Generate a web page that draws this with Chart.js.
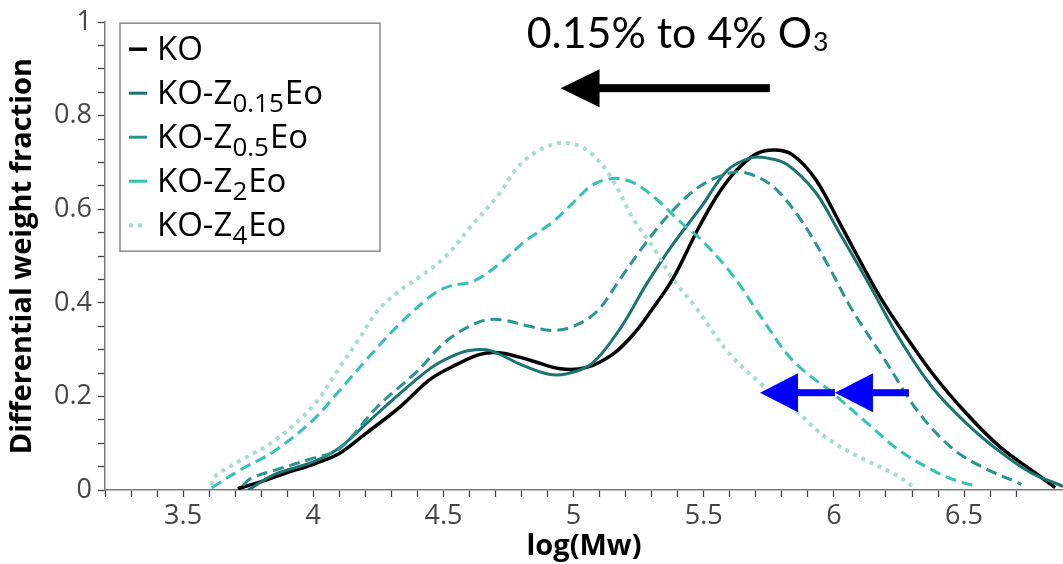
<!DOCTYPE html>
<html><head><meta charset="utf-8">
<script src="https://cdn.jsdelivr.net/npm/chart.js@4.4.1/dist/chart.umd.min.js"></script>
<style>html,body{margin:0;padding:0;background:#fff;overflow:hidden}canvas{display:block}</style>
</head><body>
<canvas id="c" width="1063" height="564"></canvas>
<script>
// ---- data ----
const koX = [3.71, 3.8, 3.9, 4.0, 4.1, 4.2, 4.33, 4.45, 4.55, 4.64, 4.72, 4.83, 4.95, 5.05, 5.15, 5.23, 5.3, 5.38, 5.48, 5.55, 5.62, 5.7, 5.77, 5.84, 5.93, 6.02, 6.1, 6.18, 6.25, 6.38, 6.51, 6.64, 6.76, 6.85];
const koY = [0.003, 0.018, 0.037, 0.055, 0.078, 0.12, 0.176, 0.237, 0.268, 0.29, 0.293, 0.278, 0.259, 0.262, 0.29, 0.333, 0.385, 0.45, 0.56, 0.628, 0.68, 0.718, 0.727, 0.717, 0.664, 0.573, 0.49, 0.41, 0.35, 0.248, 0.163, 0.091, 0.042, 0.005];

const z015X = [3.75, 3.85, 4.0, 4.1, 4.21, 4.33, 4.45, 4.53, 4.6, 4.68, 4.79, 4.9, 4.97, 5.07, 5.18, 5.28, 5.38, 5.49, 5.59, 5.68, 5.74, 5.82, 5.93, 6.02, 6.13, 6.25, 6.38, 6.51, 6.64, 6.76, 6.88];
const z015Y = [0.0, 0.033, 0.06, 0.09, 0.145, 0.205, 0.26, 0.285, 0.298, 0.298, 0.27, 0.248, 0.248, 0.27, 0.346, 0.44, 0.524, 0.605, 0.683, 0.71, 0.71, 0.696, 0.636, 0.551, 0.445, 0.325, 0.218, 0.142, 0.081, 0.036, 0.008];

const z05X = [3.73, 3.76, 3.85, 4.0, 4.1, 4.25, 4.4, 4.51, 4.64, 4.72, 4.83, 4.92, 5.0, 5.09, 5.18, 5.28, 5.38, 5.49, 5.61, 5.68, 5.77, 5.87, 5.97, 6.07, 6.19, 6.32, 6.45, 6.57, 6.7, 6.72];
const z05Y = [0.01, 0.025, 0.042, 0.068, 0.088, 0.18, 0.254, 0.318, 0.36, 0.364, 0.35, 0.341, 0.35, 0.382, 0.452, 0.53, 0.597, 0.651, 0.679, 0.675, 0.647, 0.58, 0.488, 0.385, 0.283, 0.17, 0.091, 0.049, 0.017, 0.012];

const z2X = [3.61, 3.72, 3.85, 4.0, 4.1, 4.21, 4.33, 4.46, 4.53, 4.61, 4.71, 4.81, 4.92, 5.0, 5.07, 5.15, 5.23, 5.32, 5.41, 5.49, 5.61, 5.72, 5.84, 6.0, 6.13, 6.25, 6.38, 6.47, 6.55];
const z2Y = [0.005, 0.043, 0.083, 0.15, 0.212, 0.282, 0.354, 0.418, 0.437, 0.445, 0.481, 0.53, 0.573, 0.615, 0.651, 0.666, 0.657, 0.621, 0.573, 0.535, 0.46, 0.37, 0.278, 0.205, 0.142, 0.085, 0.042, 0.02, 0.008];

const z4X = [3.61, 3.62, 3.72, 3.85, 4.0, 4.1, 4.17, 4.25, 4.33, 4.42, 4.51, 4.61, 4.71, 4.79, 4.87, 4.96, 5.05, 5.14, 5.23, 5.31, 5.38, 5.47, 5.59, 5.72, 5.84, 5.97, 6.1, 6.23, 6.31];
const z4Y = [0.01, 0.028, 0.063, 0.105, 0.18, 0.261, 0.318, 0.385, 0.425, 0.46, 0.5, 0.566, 0.63, 0.693, 0.727, 0.742, 0.727, 0.672, 0.579, 0.515, 0.452, 0.39, 0.297, 0.227, 0.176, 0.112, 0.07, 0.035, 0.005];

const seriesNames = ['KO', 'KO-Z0.15Eo', 'KO-Z0.5Eo', 'KO-Z2Eo', 'KO-Z4Eo'];
// legend label pieces: [text, isSubscript]
const legendParts = [
  [['KO', 0]],
  [['KO-Z', 0], ['0.15', 1], ['Eo', 0]],
  [['KO-Z', 0], ['0.5', 1], ['Eo', 0]],
  [['KO-Z', 0], ['2', 1], ['Eo', 0]],
  [['KO-Z', 0], ['4', 1], ['Eo', 0]]
];
const xTitle = 'log(Mw)';
const yTitle = 'Differential weight fraction';
const noteMain = '0.15% to 4% O';
const noteSub = '3';

// annotation anchors in data units
const blackArrow = {tail: 5.754, tip: 4.95, y: 0.859};
const blueArrows = [{tail: 6.004, tip: 5.716, y: 0.208}, {tail: 6.288, tip: 6.004, y: 0.208}];
const noteAt = {x: 4.82, y: 0.945};

// ---- styling ----
const styles = [
  {color: '#000000', width: 3.5, dash: []},
  {color: '#1d736f', width: 3, dash: []},
  {color: '#28968f', width: 3, dash: [11, 6]},
  {color: '#33c2b3', width: 3, dash: [11, 6]},
  {color: '#a9dbd3', width: 4, dash: [4, 5]}
];

const xsAll = [koX, z015X, z05X, z2X, z4X];
const ysAll = [koY, z015Y, z05Y, z2Y, z4Y];

const datasets = seriesNames.map((n, i) => ({
  label: n,
  data: xsAll[i].map((x, k) => ({x: x, y: ysAll[i][k]})),
  borderColor: styles[i].color,
  backgroundColor: styles[i].color,
  borderWidth: styles[i].width,
  borderDash: styles[i].dash,
  pointRadius: 0,
  fill: false,
  tension: 0.35,
  order: 5 - i
}));

const FONT = "'Open Sans', 'DejaVu Sans', sans-serif";

function drawArrow(ctx, xs, ys, a, color, shaft, headLen, headHalf) {
  const tail = xs.getPixelForValue(a.tail), tip = xs.getPixelForValue(a.tip), y = ys.getPixelForValue(a.y);
  const dir = tail > tip ? 1 : -1;
  const base = tip + dir * headLen;
  ctx.save();
  ctx.fillStyle = color;
  ctx.fillRect(Math.min(base, tail) - 1, y - shaft / 2, Math.abs(tail - base) + 1, shaft);
  ctx.beginPath();
  ctx.moveTo(tip, y);
  ctx.lineTo(base, y - headHalf);
  ctx.lineTo(base, y + headHalf);
  ctx.closePath();
  ctx.fill();
  ctx.restore();
}

const annot = {
  id: 'annot',
  afterDraw(chart) {
    const ctx = chart.ctx, xs = chart.scales.x, ys = chart.scales.y, ca = chart.chartArea;
    // arrows
    drawArrow(ctx, xs, ys, blackArrow, '#000000', 8, 39, 19);
    blueArrows.forEach(a => drawArrow(ctx, xs, ys, a, '#0000ff', 7, 38, 19.5));
    // note text
    ctx.save();
    ctx.fillStyle = '#000';
    ctx.textBaseline = 'alphabetic';
    ctx.textAlign = 'left';
    const nx = xs.getPixelForValue(noteAt.x), ny = ys.getPixelForValue(noteAt.y);
    ctx.font = "38px 'Lato', sans-serif";
    let w = ctx.measureText(noteMain).width;
    const fs = 38 * 285 / w;
    ctx.font = fs.toFixed(1) + "px 'Lato', sans-serif";
    ctx.fillText(noteMain, nx, ny);
    w = ctx.measureText(noteMain).width;
    ctx.font = (fs * 0.62).toFixed(1) + "px 'Lato', sans-serif";
    ctx.fillText(noteSub, nx + w + 1, ny + 3);
    ctx.restore();
    // legend
    ctx.save();
    const lx = ca.left + 15, ly = ca.top + 1, lw = 260, lh = 228;
    ctx.fillStyle = '#fff';
    ctx.fillRect(lx, ly, lw, lh);
    ctx.strokeStyle = '#8a8a8a';
    ctx.lineWidth = 1.5;
    ctx.strokeRect(lx, ly, lw, lh);
    legendParts.forEach((parts, i) => {
      const cy = ly + 26 + i * 44;
      const st = styles[i];
      ctx.strokeStyle = st.color;
      ctx.lineWidth = st.width;
      ctx.setLineDash(i === 4 ? [4, 5] : []);
      ctx.beginPath();
      ctx.moveTo(lx + 9, cy);
      ctx.lineTo(lx + 27, cy);
      ctx.stroke();
      ctx.setLineDash([]);
      let tx = lx + 37;
      const base = cy + 11;
      ctx.fillStyle = '#000';
      ctx.textBaseline = 'alphabetic';
      parts.forEach(([t, sub]) => {
        ctx.font = sub ? "26px " + FONT : "33px " + FONT;
        ctx.fillText(t, tx, sub ? base + 8 : base);
        tx += ctx.measureText(t).width + (sub ? 1 : 0);
      });
    });
    ctx.restore();
  }
};

new Chart(document.getElementById('c'), {
  type: 'line',
  data: {datasets},
  options: {
    responsive: false,
    animation: false,
    layout: {padding: {top: 18, right: 0, left: 0, bottom: 0}},
    plugins: {legend: {display: false}, tooltip: {enabled: false}},
    scales: {
      x: {
        type: 'linear', min: 3.2, max: 6.88,
        ticks: {
          stepSize: 0.1, autoSkip: false, maxRotation: 0, padding: 3,
          color: '#454545', font: {family: FONT, size: 27},
          callback: v => (Math.abs(v * 2 - Math.round(v * 2)) < 1e-6 ? String(Math.round(v * 2) / 2) : '')
        },
        afterBuildTicks: s => { s.ticks = s.ticks.filter(t => Math.abs(t.value * 10 - Math.round(t.value * 10)) < 1e-6); },
        grid: {display: true, drawOnChartArea: false, drawTicks: true, tickLength: 7, tickColor: '#444', tickWidth: 1.3},
        border: {display: true, color: '#7a7a7a', width: 1.5},
        title: {display: true, text: xTitle, color: '#000', font: {family: FONT, size: 29, weight: 'bold'}, padding: {top: 0, bottom: 0}},
        afterFit: s => { s.height = 74; }
      },
      y: {
        type: 'linear', min: 0, max: 1,
        ticks: {
          stepSize: 0.05, autoSkip: false, padding: 6,
          color: '#454545', font: {family: FONT, size: 27},
          callback: v => (Math.abs(v * 5 - Math.round(v * 5)) < 1e-6 ? String(Math.round(v * 5) / 5) : '')
        },
        grid: {display: true, drawOnChartArea: false, drawTicks: true, tickLength: 7, tickColor: '#444', tickWidth: 1.3},
        border: {display: true, color: '#7a7a7a', width: 1.5},
        title: {display: true, text: yTitle, color: '#000', font: {family: FONT, size: 29, weight: 'bold'}, padding: {top: 5, bottom: 0}},
        afterFit: s => { s.width = 105; }
      }
    }
  },
  plugins: [annot]
});
</script>
</body></html>
